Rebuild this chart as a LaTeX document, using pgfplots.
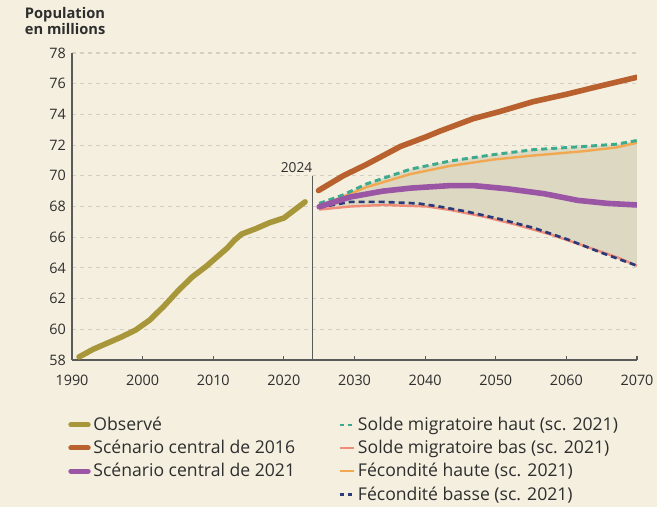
\documentclass[border=0pt]{standalone}
\usepackage{fontspec}
\setmainfont{Open Sans}
\usepackage{pgfplots}
\pgfplotsset{compat=1.18}
\definecolor{bgcream}{HTML}{F4EFDF}
\definecolor{gridgray}{HTML}{D3CFC3}
\definecolor{axisgray}{HTML}{5A5A5A}
\definecolor{txtgray}{HTML}{2E2E2E}
\definecolor{obsolive}{HTML}{A8973A}
\definecolor{brown16}{HTML}{B8612E}
\definecolor{purple21}{HTML}{9B55A5}
\definecolor{tealhaut}{HTML}{3BAA8E}
\definecolor{salmonbas}{HTML}{F08C78}
\definecolor{orangehaute}{HTML}{F2A850}
\definecolor{navybasse}{HTML}{2B3A78}
\definecolor{bandfill}{HTML}{DDD8C2}
\pgfplotsset{
  legsolid/.style={legend image code/.code={\draw[##1] (0pt,0pt) -- (13pt,0pt);}},
  legthin/.style={legend image code/.code={\draw[##1] (0pt,0pt) -- (11pt,0pt);}},
  legdash/.style={legend image code/.code={\draw[##1] (0pt,0pt) -- (3pt,0pt); \draw[##1] (6pt,0pt) -- (9pt,0pt);}},
}

\begin{document}
\begin{tikzpicture}
% page background (1px = 0.75pt)
\fill[white] (0pt,0pt) rectangle (498.75pt,380.25pt);
\fill[bgcream] (0pt,0pt) rectangle (492.75pt,380.25pt);
\node[anchor=north west, align=left, inner sep=0pt, text=txtgray,
      font=\bfseries\fontsize{11}{10}\selectfont] at (18.5pt,375pt) {Population\\en millions};
\begin{axis}[
    at={(54pt,110.25pt)}, anchor=south west,
    scale only axis,
    width=423.75pt, height=230.25pt,
    xmin=1990, xmax=2070,
    ymin=58, ymax=78,
    xtick={1990,2000,...,2070},
    ytick={58,60,...,78},
    axis x line=bottom, axis y line=left,
    axis line style={-, draw=axisgray, line width=0.8pt},
    tick align=inside,
    major tick length=3pt,
    xtick style={draw=axisgray, line width=0.8pt},
    ytick style={draw=none},
    ymajorgrids,
    grid style={dashed, gridgray, line width=0.8pt},
    tick label style={font=\fontsize{10.8}{12}\selectfont, text=txtgray},
    xticklabel style={yshift=-8pt},
    yticklabel style={xshift=-1pt},
    /pgf/number format/1000 sep={},
    /pgf/number format/assume math mode=true,
    legend style={at={(-0.007,-0.176)}, anchor=north west, draw=none, fill=none,
        font=\fontsize{13.2}{14}\selectfont, text=txtgray, inner sep=0pt,
        row sep=1.8pt,
        /tikz/every even column/.append style={column sep=30.5pt}},
    legend columns=2,
    legend cell align=left,
]
% band between high and low variants
\addplot[fill=bandfill, draw=none, forget plot] coordinates {
    (2025,68.2) (2028.2,68.72) (2031.7,69.47) (2037.9,70.43) (2043.5,70.96) (2049.7,71.38)
    (2055.3,71.7) (2062.4,71.91) (2067.1,72.06) (2070,72.3)
    (2070,64.14) (2067.3,64.67) (2062.6,65.42) (2057.8,66.17) (2053,66.8) (2048.3,67.34)
    (2043.6,67.77) (2040.3,68.0) (2034,68.1) (2029.4,68.0) (2025,67.8)
} -- cycle;
% 2024 marker
\addplot[axisgray, line width=0.8pt, forget plot] coordinates {(2024,58) (2024,70)}
    node[pos=1, anchor=south east, inner sep=1pt, xshift=1.5pt, yshift=1pt, text=txtgray,
         font=\fontsize{10.3}{11}\selectfont] {2024};
% Observé
\addplot[obsolive, line width=4.2pt, line cap=round, line join=round, forget plot] coordinates {
    (1991,58.2) (1993,58.7) (1995,59.1) (1997,59.5) (1999,59.95) (2001,60.6) (2003,61.5)
    (2005,62.5) (2007,63.4) (2009,64.1) (2011,64.9) (2012,65.3) (2013,65.8) (2014,66.2)
    (2016,66.55) (2018,66.95) (2020,67.25) (2021,67.6) (2022,67.95) (2023,68.3)
};
% Scénario central de 2016
\addplot[brown16, line width=4.2pt, line cap=round, line join=round, forget plot] coordinates {
    (2024.9,69.04) (2028.4,70.0) (2031.7,70.74) (2036.5,71.91) (2040.2,72.55) (2042.1,72.91)
    (2046.8,73.72) (2050.6,74.19) (2055.3,74.83) (2060.1,75.32) (2063.8,75.74) (2070,76.42)
};
% Solde migratoire bas
\addplot[salmonbas, line width=1.8pt, forget plot] coordinates {
    (2025,67.8) (2029.4,68.0) (2034,68.1) (2040.3,68.0) (2043.6,67.77) (2048.3,67.34)
    (2053,66.8) (2057.8,66.17) (2062.6,65.42) (2067.3,64.67) (2070,64.14)
};
% Fécondité haute
\addplot[orangehaute, line width=1.8pt, forget plot] coordinates {
    (2025,68.0) (2028.2,68.6) (2031.7,69.26) (2037.9,70.11) (2043.5,70.64) (2049.7,71.06)
    (2055.3,71.32) (2062.4,71.6) (2067.1,71.85) (2070,72.15)
};
% Fécondité basse
\addplot[navybasse, line width=2pt, dash pattern=on 4.5pt off 3pt, forget plot] coordinates {
    (2025,67.94) (2029.4,68.3) (2034,68.3) (2039,68.2) (2042.2,67.98) (2046,67.66)
    (2050.7,67.17) (2055.4,66.6) (2060.2,65.85) (2064.9,65.0) (2070,64.14)
};
% Solde migratoire haut
\addplot[tealhaut, line width=2.2pt, dash pattern=on 4.5pt off 3pt, forget plot] coordinates {
    (2025,68.2) (2028.2,68.72) (2031.7,69.47) (2037.9,70.43) (2043.5,70.96) (2049.7,71.38)
    (2055.3,71.7) (2062.4,71.91) (2067.1,72.06) (2070,72.3)
};
% Scénario central de 2021
\addplot[purple21, line width=4.2pt, line cap=round, line join=round, forget plot] coordinates {
    (2025,67.98) (2029.4,68.62) (2034,69.0) (2038,69.2) (2043.5,69.36) (2046.9,69.36)
    (2051.7,69.15) (2056.9,68.83) (2061.6,68.4) (2065.9,68.2) (2070,68.1)
};
% legend, in row order
\addlegendimage{obsolive, line width=3.8pt, line cap=round, legsolid}
\addlegendentry{Observé}
\addlegendimage{tealhaut, line width=1.8pt, legdash}
\addlegendentry{Solde migratoire haut (sc. 2021)}
\addlegendimage{brown16, line width=3.8pt, line cap=round, legsolid}
\addlegendentry{Scénario central de 2016}
\addlegendimage{salmonbas, line width=1.5pt, legthin}
\addlegendentry{Solde migratoire bas (sc. 2021)}
\addlegendimage{purple21, line width=3.8pt, line cap=round, legsolid}
\addlegendentry{Scénario central de 2021}
\addlegendimage{orangehaute, line width=1.5pt, legthin}
\addlegendentry{Fécondité haute (sc. 2021)}
\addlegendimage{empty legend}
\addlegendentry{}
\addlegendimage{navybasse, line width=1.8pt, legdash}
\addlegendentry{Fécondité basse (sc. 2021)}
\end{axis}
\end{tikzpicture}
\end{document}
